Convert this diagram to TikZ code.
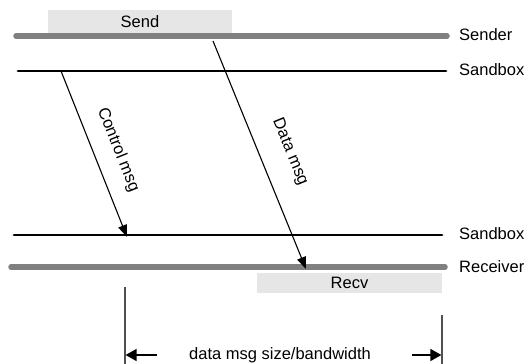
\documentclass[tikz,border=0pt]{standalone}
\usepackage{fontspec}
\setmainfont{Liberation Sans}
\usetikzlibrary{arrows.meta}

\definecolor{linegray}{HTML}{808080}
\definecolor{boxgray}{HTML}{E6E6E6}
\definecolor{dimgray}{HTML}{505050}

\begin{document}
\begin{tikzpicture}[x=1pt, y=-1pt,
        every node/.style={font=\fontsize{16.5}{19}\selectfont, inner sep=0pt},
        hostline/.style={linegray, line width=5.5pt, line cap=round},
        boxline/.style={black, line width=2.8pt, line cap=round},
        msg/.style={line width=1.1pt, -{Triangle[length=12pt, width=9pt]}},
        dimline/.style={dimgray, line width=1.2pt},
        dimarrow/.style={line width=1.4pt, -{Triangle[length=11pt, width=12pt]}},
        busy/.style={fill=boxgray, draw=none, minimum height=23pt}]
    \useasboundingbox (0,0) rectangle (528,364);

    % busy boxes
    \node[busy, minimum width=184pt, minimum height=23pt] (send) at (140,21.5) {Send};
    \node[busy, minimum width=185pt, minimum height=20pt] (recv) at (349.5,283) {Recv};

    % time lines
    \coordinate (sndA) at (16,36);   \coordinate (sndB) at (447,36);
    \coordinate (sb1A) at (18,71);   \coordinate (sb1B) at (446,71);
    \coordinate (sb2A) at (14,235);  \coordinate (sb2B) at (442,235);
    \coordinate (rcvA) at (11,267);  \coordinate (rcvB) at (445,267);
    \draw[hostline] (sndA) -- (sndB);
    \draw[boxline]  (sb1A) -- (sb1B);
    \draw[boxline]  (sb2A) -- (sb2B);
    \draw[hostline] (rcvA) -- (rcvB);
    \node[anchor=west] (sender)   at (459,35)  {Sender};
    \node[anchor=west] (sandbox1) at (459,70)  {Sandbox};
    \node[anchor=west] (sandbox2) at (459,234) {Sandbox};
    \node[anchor=west] (receiver) at (459,267) {Receiver};

    % messages
    \coordinate (ctlA) at (61,71);   \coordinate (ctlB) at (127,237);
    \coordinate (datA) at (213,41);  \coordinate (datB) at (306,269);
    \draw[msg] (ctlA) -- (ctlB);
    \draw[msg] (datA) -- (datB);
    \node[rotate=-68.3] (ctlmsg) at (118,150) {Control msg};
    \node[rotate=-67.7] (datmsg) at (290,152) {Data msg};

    % transfer time
    \coordinate (tA) at (125,287);  \coordinate (tA2) at (125,364);
    \coordinate (tB) at (442,315);  \coordinate (tB2) at (442,364);
    \draw[dimline] (tA) -- (tA2);
    \draw[dimline] (tB) -- (tB2);
    \node (bw) at (280,355) {data msg size/bandwidth};
    \coordinate (lA) at (157,355);  \coordinate (lB) at (125.6,355);
    \coordinate (rA) at (412,355);  \coordinate (rB) at (441.4,355);
    \draw[dimarrow] (lA) -- (lB);
    \draw[dimarrow] (rA) -- (rB);
\end{tikzpicture}
\end{document}
